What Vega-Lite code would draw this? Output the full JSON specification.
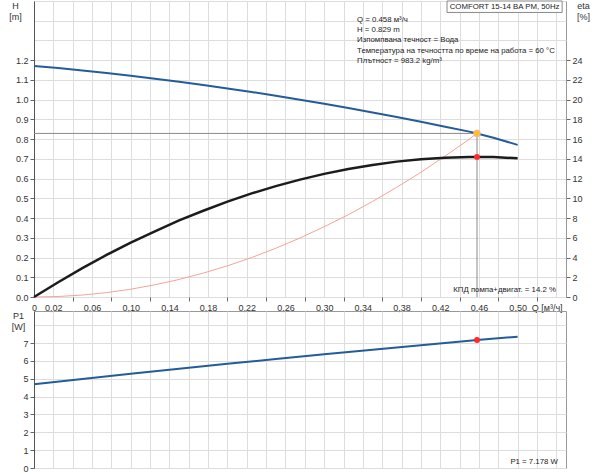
{
  "$schema": "https://vega.github.io/schema/vega-lite/v6.json",
  "padding": {"left": 8, "top": 0, "right": 0, "bottom": 0},
  "bounds": "flush",
  "spacing": 14,
  "config": {
    "font": "Liberation Sans",
    "view": {"stroke": "#999999", "strokeWidth": 1},
    "axis": {
      "labelFont": "Liberation Sans",
      "titleFont": "Liberation Sans",
      "labelFontSize": 9,
      "titleFontSize": 9,
      "titleFontWeight": "normal",
      "labelColor": "#333333",
      "titleColor": "#333333",
      "gridColor": "#dddddd",
      "tickColor": "#666666",
      "domainColor": "#666666",
      "tickSize": 4,
      "labelPadding": 2
    },
    "text": {"font": "Liberation Sans", "fontSize": 7.8, "color": "#222222"}
  },
  "datasets": {
    "pump": [
      {"Q": 0, "H": 1.171}, {"Q": 0.025, "H": 1.160}, {"Q": 0.05, "H": 1.148}, {"Q": 0.075, "H": 1.135},
      {"Q": 0.1, "H": 1.121}, {"Q": 0.125, "H": 1.106}, {"Q": 0.15, "H": 1.091}, {"Q": 0.175, "H": 1.074},
      {"Q": 0.2, "H": 1.057}, {"Q": 0.225, "H": 1.039}, {"Q": 0.25, "H": 1.020}, {"Q": 0.275, "H": 1.000},
      {"Q": 0.3, "H": 0.979}, {"Q": 0.325, "H": 0.958}, {"Q": 0.35, "H": 0.935}, {"Q": 0.375, "H": 0.912},
      {"Q": 0.4, "H": 0.888}, {"Q": 0.425, "H": 0.863}, {"Q": 0.45, "H": 0.838}, {"Q": 0.458, "H": 0.829},
      {"Q": 0.475, "H": 0.807}, {"Q": 0.5, "H": 0.771}
    ],
    "system": [
      {"Q": 0, "H": 0}, {"Q": 0.025, "H": 0.0025}, {"Q": 0.05, "H": 0.0099}, {"Q": 0.075, "H": 0.0222},
      {"Q": 0.1, "H": 0.0395}, {"Q": 0.125, "H": 0.0618}, {"Q": 0.15, "H": 0.0889}, {"Q": 0.175, "H": 0.121},
      {"Q": 0.2, "H": 0.158}, {"Q": 0.225, "H": 0.200}, {"Q": 0.25, "H": 0.247}, {"Q": 0.275, "H": 0.299},
      {"Q": 0.3, "H": 0.356}, {"Q": 0.325, "H": 0.417}, {"Q": 0.35, "H": 0.484}, {"Q": 0.375, "H": 0.556},
      {"Q": 0.4, "H": 0.632}, {"Q": 0.425, "H": 0.714}, {"Q": 0.45, "H": 0.800}, {"Q": 0.458, "H": 0.829}
    ],
    "eff": [
      {"Q": 0, "eta": 0}, {"Q": 0.025, "eta": 1.50}, {"Q": 0.05, "eta": 2.92}, {"Q": 0.075, "eta": 4.26},
      {"Q": 0.1, "eta": 5.50}, {"Q": 0.125, "eta": 6.66}, {"Q": 0.15, "eta": 7.76}, {"Q": 0.175, "eta": 8.74},
      {"Q": 0.2, "eta": 9.66}, {"Q": 0.225, "eta": 10.50}, {"Q": 0.25, "eta": 11.24}, {"Q": 0.275, "eta": 11.90},
      {"Q": 0.3, "eta": 12.48}, {"Q": 0.325, "eta": 12.98}, {"Q": 0.35, "eta": 13.38}, {"Q": 0.375, "eta": 13.72},
      {"Q": 0.4, "eta": 13.96}, {"Q": 0.425, "eta": 14.12}, {"Q": 0.45, "eta": 14.20}, {"Q": 0.475, "eta": 14.18},
      {"Q": 0.5, "eta": 14.06}
    ],
    "power": [
      {"Q": 0, "P1": 4.70}, {"Q": 0.05, "P1": 4.99}, {"Q": 0.1, "P1": 5.28}, {"Q": 0.15, "P1": 5.56},
      {"Q": 0.2, "P1": 5.84}, {"Q": 0.25, "P1": 6.11}, {"Q": 0.3, "P1": 6.37}, {"Q": 0.35, "P1": 6.63},
      {"Q": 0.4, "P1": 6.88}, {"Q": 0.45, "P1": 7.13}, {"Q": 0.458, "P1": 7.178}, {"Q": 0.5, "P1": 7.36}
    ],
    "refl": [
      {"Q": 0, "Q2": 0.458, "H": 0.829, "H2": 0.829},
      {"Q": 0.458, "Q2": 0.458, "H": 0, "H2": 0.829}
    ],
    "op": [{"Q": 0.458, "H": 0.829, "eta": 14.2, "P1": 7.178}],
    "notes": [
      {"Q": 0.334, "H": 1.404, "label": "Q = 0.458 м³/ч"},
      {"Q": 0.334, "H": 1.352, "label": "H = 0.829 m"},
      {"Q": 0.334, "H": 1.300, "label": "Изпомпвана течност = Вода"},
      {"Q": 0.334, "H": 1.248, "label": "Температура на течността по време на работа = 60 °C"},
      {"Q": 0.334, "H": 1.196, "label": "Плътност = 983.2 kg/m³"}
    ],
    "box": [{"Q": 0.427, "Q2": 0.546, "H": 1.442, "H2": 1.5, "Qm": 0.4865, "Hm": 1.471, "label": "COMFORT 15-14 BA PM, 50Hz"}],
    "kpd": [{"Q": 0.5395, "H": 0.033, "label": "КПД помпа+двигат. = 14.2 %"}],
    "p1note": [{"Q": 0.5416, "P1": 0.36, "label": "P1 = 7.178 W"}]
  },
  "vconcat": [
    {
      "width": 532,
      "height": 296,
      "encoding": {
        "x": {
          "field": "Q",
          "type": "quantitative",
          "scale": {"domain": [0, 0.55], "nice": false, "zero": false},
          "axis": {
            "title": null,
            "values": [0, 0.02, 0.04, 0.06, 0.08, 0.1, 0.12, 0.14, 0.16, 0.18, 0.2, 0.22, 0.24, 0.26, 0.28, 0.3, 0.32, 0.34, 0.36, 0.38, 0.4, 0.42, 0.44, 0.46, 0.48, 0.5, 0.52, 0.54, 0.53],
            "grid": true,
            "gridOpacity": {"condition": {"test": "datum.value == 0.53", "value": 0}, "value": 1},
            "tickOpacity": {"condition": {"test": "datum.value > 0 && datum.value != 0.53 && round(datum.value * 50) % 2 == 0", "value": 1}, "value": 0},
            "labelExpr": "datum.value == 0 ? '0' : datum.value == 0.53 ? 'Q [м³/ч]' : (round(datum.value * 50) % 2 == 1 && datum.value <= 0.505) ? replace(format(datum.value, '.2f'), '.', ',') : ''",
            "labelOverlap": false,
            "labelFlush": false,
            "domain": false
          }
        }
      },
      "layer": [
        {
          "encoding": {
            "y": {
              "field": "H",
              "type": "quantitative",
              "scale": {"domain": [0, 1.5], "nice": false},
              "axis": {
                "values": [0, 0.1, 0.2, 0.3, 0.4, 0.5, 0.6, 0.7, 0.8, 0.9, 1.0, 1.1, 1.2, 1.3, 1.4, 1.5],
                "grid": true,
                "labelExpr": "datum.value <= 1.21 ? format(datum.value, '.1f') : ''",
                "tickOpacity": {"condition": {"test": "datum.value > 1.21", "value": 0}, "value": 1},
                "domainColor": "#555555",
                "title": ["H", "[m]"],
                "titleAngle": 0,
                "titleAlign": "center",
                "titleBaseline": "top",
                "titleX": -19,
                "titleY": 0,
                "titleLineHeight": 11
              }
            }
          },
          "layer": [
            {
              "data": {"name": "system"},
              "mark": {"type": "line", "color": "#f6a39b", "strokeWidth": 1}
            },
            {
              "data": {"name": "refl"},
              "mark": {"type": "rule", "color": "#8a8a8a", "strokeWidth": 1},
              "encoding": {"x2": {"field": "Q2"}, "y2": {"field": "H2"}}
            },
            {
              "data": {"name": "pump"},
              "mark": {"type": "line", "color": "#245c9a", "strokeWidth": 2}
            },
            {
              "data": {"name": "op"},
              "mark": {"type": "point", "filled": true, "shape": "circle", "size": 45, "color": "#ffc21a", "stroke": "#f7b0a8", "strokeWidth": 1, "opacity": 1}
            },
            {
              "data": {"name": "notes"},
              "mark": {"type": "text", "align": "left", "baseline": "middle"},
              "encoding": {"text": {"field": "label"}}
            },
            {
              "data": {"name": "box"},
              "mark": {"type": "rect", "fill": "#ffffff", "stroke": "#888888", "strokeWidth": 1},
              "encoding": {"x2": {"field": "Q2"}, "y2": {"field": "H2"}}
            },
            {
              "data": {"name": "box"},
              "mark": {"type": "text", "align": "center", "baseline": "middle"},
              "encoding": {"x": {"field": "Qm", "type": "quantitative"}, "y": {"field": "Hm", "type": "quantitative"}, "text": {"field": "label"}}
            },
            {
              "data": {"name": "kpd"},
              "mark": {"type": "text", "align": "right", "baseline": "middle"},
              "encoding": {"text": {"field": "label"}}
            }
          ]
        },
        {
          "encoding": {
            "y": {
              "field": "eta",
              "type": "quantitative",
              "scale": {"domain": [0, 30], "nice": false},
              "axis": {
                "orient": "right",
                "values": [0, 2, 4, 6, 8, 10, 12, 14, 16, 18, 20, 22, 24],
                "grid": false,
                "domain": false,
                "title": ["eta", "[%]"],
                "titleAngle": 0,
                "titleAlign": "center",
                "titleBaseline": "top",
                "titleX": 17,
                "titleY": 0,
                "titleLineHeight": 11
              }
            }
          },
          "layer": [
            {
              "data": {"name": "eff"},
              "mark": {"type": "line", "color": "#1c1c1c", "strokeWidth": 2.5}
            },
            {
              "data": {"name": "op"},
              "mark": {"type": "point", "filled": true, "shape": "circle", "size": 35, "color": "#ff2a2a", "opacity": 1}
            }
          ]
        }
      ],
      "resolve": {"scale": {"y": "independent"}, "axis": {"y": "independent"}}
    },
    {
      "width": 532,
      "height": 157,
      "encoding": {
        "x": {
          "field": "Q",
          "type": "quantitative",
          "scale": {"domain": [0, 0.55], "nice": false, "zero": false},
          "axis": {
            "title": null,
            "values": [0, 0.02, 0.04, 0.06, 0.08, 0.1, 0.12, 0.14, 0.16, 0.18, 0.2, 0.22, 0.24, 0.26, 0.28, 0.3, 0.32, 0.34, 0.36, 0.38, 0.4, 0.42, 0.44, 0.46, 0.48, 0.5, 0.52, 0.54],
            "grid": true,
            "labels": false,
            "ticks": false,
            "domain": false
          }
        },
        "y": {
          "field": "P1",
          "type": "quantitative",
          "scale": {"domain": [0, 8.8], "nice": false},
          "axis": {
            "values": [0, 1, 2, 3, 4, 5, 6, 7, 8],
            "grid": true,
            "labelExpr": "datum.value <= 7 ? format(datum.value, 'd') : ''",
            "tickOpacity": {"condition": {"test": "datum.value > 7", "value": 0}, "value": 1},
            "domainColor": "#555555",
            "title": ["P1", "[W]"],
            "titleAngle": 0,
            "titleAlign": "center",
            "titleBaseline": "top",
            "titleX": -16,
            "titleY": 0,
            "titleLineHeight": 11
          }
        }
      },
      "layer": [
        {
          "data": {"name": "power"},
          "mark": {"type": "line", "color": "#245c9a", "strokeWidth": 2}
        },
        {
          "data": {"name": "op"},
          "mark": {"type": "point", "filled": true, "shape": "circle", "size": 35, "color": "#ff2a2a", "opacity": 1}
        },
        {
          "data": {"name": "p1note"},
          "mark": {"type": "text", "align": "right", "baseline": "middle"},
          "encoding": {"text": {"field": "label"}}
        }
      ]
    }
  ]
}
